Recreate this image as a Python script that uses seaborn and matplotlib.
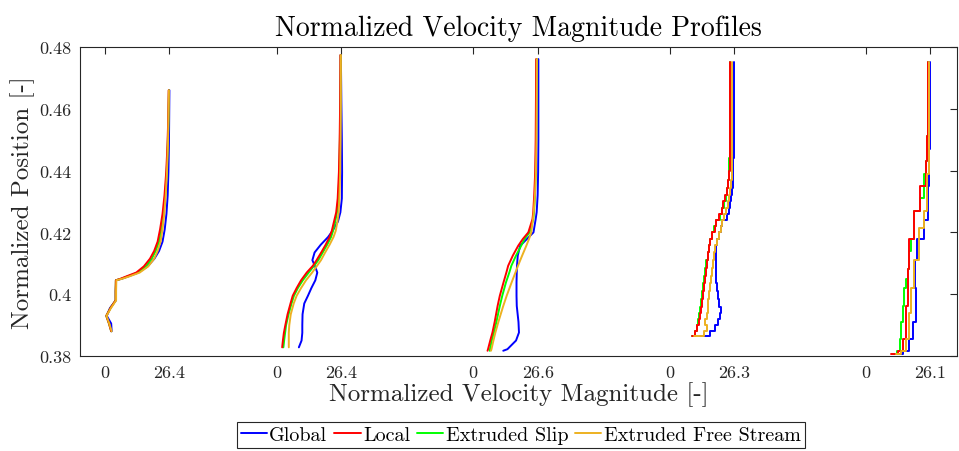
import numpy as np
import pandas as pd
import matplotlib
matplotlib.use("Agg")
import matplotlib.pyplot as plt
import seaborn as sns

# ---- profile data: position (y) and velocity magnitude per method ----
series_names = ["Global", "Local", "Extruded Slip", "Extruded Free Stream"]
series_colors = {"Global": "#0000FF", "Local": "#FF0000",
                 "Extruded Slip": "#00FF00", "Extruded Free Stream": "#EDB120"}
draw_order = ["Global", "Extruded Slip", "Local", "Extruded Free Stream"]

station_offsets = [0, 70, 150, 230, 310]
station_max = [26.4, 26.4, 26.6, 26.3, 26.1]
station_steps = [False, False, False, True, True]

# station 1
y1 = [0.388, 0.3905, 0.393, 0.3955, 0.398, 0.401, 0.4045, 0.405, 0.4058, 0.407,
      0.409, 0.4115, 0.414, 0.417, 0.421, 0.426, 0.432, 0.4395, 0.448, 0.456, 0.466]
glob1 = [2.9, 2.7, 0.9, 2.2, 4.6, 4.6, 4.7, 7.0, 9.8, 13.8, 17.5, 20.3, 22.2, 23.6,
         24.5, 25.2, 25.7, 26.0, 26.2, 26.3, 26.4]
local1 = [2.7, 1.8, 0.7, 2.4, 4.5, 4.5, 4.6, 6.5, 9.0, 12.9, 16.0, 18.5, 20.2, 21.6,
          22.6, 23.6, 24.4, 25.1, 25.6, 25.9, 26.1]
slip1 = [2.7, 1.8, 0.7, 2.4, 4.5, 4.5, 4.6, 6.8, 9.5, 13.5, 16.8, 19.2, 20.8, 22.2,
         23.2, 24.0, 24.7, 25.3, 25.7, 26.0, 26.2]
free1 = [2.9, 1.9, 0.8, 2.6, 4.7, 4.7, 4.8, 7.2, 10.2, 14.3, 17.8, 20.2, 21.6, 22.8,
         23.6, 24.3, 24.9, 25.4, 25.8, 26.0, 26.2]

# station 2
y2 = [0.3828, 0.385, 0.3875, 0.390, 0.3935, 0.397, 0.3995, 0.402, 0.4045, 0.407,
      0.4092, 0.411, 0.4135, 0.416, 0.4185, 0.4205, 0.4235, 0.4265, 0.431, 0.4395,
      0.450, 0.462, 0.4774]
glob2 = [9.1, 10.2, 10.5, 10.5, 10.6, 11.3, 12.8, 14.2, 15.8, 16.6, 15.6, 14.6, 15.5,
         18.0, 21.0, 22.8, 25.0, 26.0, 26.6, 26.7, 26.6, 26.4, 26.2]
local2 = [2.3, 2.6, 3.0, 3.6, 4.5, 5.7, 6.6, 8.2, 10.0, 12.3, 14.8, 16.3, 18.2, 20.0,
          21.6, 22.5, 23.4, 24.3, 24.9, 25.4, 25.7, 25.9, 26.0]
slip2 = [2.8, 3.1, 3.5, 3.9, 4.9, 6.1, 7.1, 8.7, 10.7, 13.1, 15.3, 17.0, 18.8, 20.6,
         22.2, 23.0, 23.9, 24.6, 25.2, 25.6, 25.8, 26.0, 26.1]
free2 = [5.0, 5.0, 5.0, 5.2, 5.8, 7.0, 8.2, 10.0, 12.0, 14.5, 16.5, 18.1, 19.8, 21.6,
         23.2, 24.1, 24.8, 25.3, 25.6, 25.9, 26.1, 26.2, 26.2]

# station 3
y3 = [0.3817, 0.3822, 0.385, 0.3876, 0.391, 0.3962, 0.3995, 0.4038, 0.4071, 0.4092,
      0.4125, 0.4157, 0.4179, 0.420, 0.4243, 0.4265, 0.432, 0.4395, 0.450, 0.462, 0.4761]
glob3 = [12.3, 14.0, 17.5, 18.7, 18.5, 17.8, 17.7, 17.7, 17.8, 17.9, 18.2, 19.2, 22.0,
         24.6, 25.5, 25.9, 26.3, 26.5, 26.6, 26.6, 26.6]
local3 = [5.9, 6.1, 7.0, 7.9, 8.8, 10.0, 10.9, 12.4, 13.6, 14.3, 16.2, 18.4, 20.3, 22.5,
          24.2, 24.5, 24.9, 25.3, 25.5, 25.6, 25.7]
slip3 = [6.8, 6.9, 7.6, 8.5, 9.5, 10.9, 11.9, 13.4, 14.8, 15.6, 17.5, 19.6, 21.0, 23.0,
         24.5, 24.8, 25.2, 25.5, 25.7, 25.8, 25.9]
free3 = [7.3, 7.5, 8.3, 9.1, 10.3, 12.3, 13.7, 15.7, 17.3, 18.3, 20.0, 21.7, 22.8, 23.7,
         24.4, 24.7, 25.2, 25.6, 25.8, 25.9, 26.0]

# station 4 (cell-wise constant values)
y4 = [0.3866, 0.3880, 0.3900, 0.3920, 0.3940, 0.3960, 0.3985, 0.4010, 0.4035, 0.4060,
      0.4085, 0.4110, 0.4135, 0.4160, 0.4180, 0.4200, 0.4220, 0.4240, 0.4260, 0.4280,
      0.4300, 0.4320, 0.4345, 0.4370, 0.4400, 0.4440, 0.4500, 0.4600, 0.4752]
glob4 = [12.5, 16.5, 18.5, 19.8, 20.4, 20.8, 20.3, 19.7, 19.2, 18.9, 18.8, 18.8, 18.9,
         19.0, 19.2, 20.2, 20.8, 21.5, 23.4, 24.2, 24.6, 25.0, 25.5, 25.8, 25.9, 26.0,
         26.1, 26.1, 26.1]
local4 = [9.1, 10.2, 11.3, 11.8, 12.2, 12.6, 13.1, 13.5, 13.9, 14.4, 14.8, 15.2, 15.6,
          16.1, 16.6, 17.4, 18.3, 19.1, 20.2, 21.3, 21.9, 22.6, 23.3, 23.7, 24.1, 24.4,
          24.6, 24.7, 24.8]
slip4 = [9.1, 10.4, 11.0, 11.4, 11.8, 12.3, 12.8, 13.3, 13.7, 14.2, 14.6, 15.0, 15.5,
         16.0, 16.6, 17.2, 18.0, 19.0, 20.5, 21.3, 22.2, 22.8, 23.3, 23.7, 24.0, 24.3,
         24.5, 24.7, 24.8]
free4 = [9.9, 14.0, 15.2, 14.6, 15.2, 15.5, 15.8, 16.2, 16.6, 17.0, 17.4, 17.8, 18.1,
         18.5, 19.2, 20.2, 20.9, 21.5, 22.0, 22.8, 23.7, 24.3, 24.8, 25.1, 25.3, 25.4,
         25.5, 25.6, 25.6]

# station 5 (cell-wise constant values)
y5 = [0.3806, 0.3817, 0.3835, 0.3855, 0.3880, 0.3910, 0.3940, 0.3963, 0.3990, 0.4020,
      0.4050, 0.4082, 0.4110, 0.4140, 0.4179, 0.4215, 0.4240, 0.4270, 0.4310, 0.4351,
      0.4390, 0.4432, 0.4470, 0.4513, 0.4600, 0.4752]
glob5 = [11.6, 14.9, 17.6, 17.6, 19.2, 19.2, 20.3, 20.3, 20.3, 20.3, 20.0, 20.0, 20.0,
         20.9, 20.9, 23.5, 23.5, 25.3, 25.3, 25.3, 25.8, 25.8, 25.8, 26.2, 26.2, 26.2]
local5 = [10.3, 12.9, 14.9, 14.9, 16.2, 16.2, 16.2, 16.2, 16.9, 16.9, 16.9, 16.9, 17.6,
          17.6, 17.6, 19.6, 19.6, 19.6, 21.8, 21.8, 24.2, 24.2, 24.9, 24.9, 25.3, 25.3]
slip5 = [11.0, 12.5, 13.6, 13.6, 14.2, 14.2, 14.9, 14.9, 15.5, 15.5, 16.2, 16.9, 17.3,
         17.6, 18.2, 19.6, 19.6, 19.6, 21.8, 23.5, 23.5, 24.2, 24.6, 24.9, 25.1, 25.2]
free5 = [12.3, 14.2, 16.2, 16.2, 17.6, 17.6, 17.6, 18.2, 18.2, 18.2, 19.6, 19.6, 19.6,
         21.6, 21.6, 21.6, 23.5, 23.5, 24.9, 24.9, 24.9, 25.5, 25.5, 25.8, 25.8, 25.8]

stations = [
    (y1, {"Global": glob1, "Local": local1, "Extruded Slip": slip1, "Extruded Free Stream": free1}),
    (y2, {"Global": glob2, "Local": local2, "Extruded Slip": slip2, "Extruded Free Stream": free2}),
    (y3, {"Global": glob3, "Local": local3, "Extruded Slip": slip3, "Extruded Free Stream": free3}),
    (y4, {"Global": glob4, "Local": local4, "Extruded Slip": slip4, "Extruded Free Stream": free4}),
    (y5, {"Global": glob5, "Local": local5, "Extruded Slip": slip5, "Extruded Free Stream": free5}),
]

# ---- style ----
sns.set_theme(style="white")
plt.rcParams.update({
    "font.family": ["cmr10", "DejaVu Serif"],
    "mathtext.fontset": "cm",
    "axes.formatter.use_mathtext": True,
    "axes.edgecolor": "#262626",
    "axes.linewidth": 0.8,
    "xtick.color": "#262626",
    "ytick.color": "#262626",
    "text.color": "#000000",
})

fig = plt.figure(figsize=(9.59, 4.52), dpi=100)
ax = fig.add_axes([0.0834, 0.2102, 0.9145, 0.6836])

handles = {}
for k, (yy, vals) in enumerate(stations):
    off = station_offsets[k]
    for name in draw_order:
        df = pd.DataFrame({"vel": np.asarray(vals[name]) + off, "pos": yy})
        kw = dict(drawstyle="steps-post") if station_steps[k] else {}
        sns.lineplot(data=df, x="vel", y="pos", ax=ax, sort=False, estimator=None,
                     orient="y", color=series_colors[name], lw=1.4,
                     label=name if k == 0 else None, legend=False, **kw)
    if k == 0:
        for line, name in zip(ax.lines, draw_order):
            handles[name] = line

ax.set_xlim(-10, 347)
ax.set_ylim(0.38, 0.48)

xt, xl = [], []
for off, mx in zip(station_offsets, station_max):
    xt += [off, off + mx]
    xl += ["0", f"{mx:.1f}"]
ax.set_xticks(xt)
ax.set_xticklabels(xl)
ax.set_yticks([0.38, 0.40, 0.42, 0.44, 0.46, 0.48])
ax.set_yticklabels(["0.38", "0.4", "0.42", "0.44", "0.46", "0.48"])
ax.tick_params(axis="both", direction="in", length=5, width=0.8, labelsize=13,
               top=True, right=True, pad=6)

ax.set_xlabel("Normalized Velocity Magnitude [-]", fontsize=18, labelpad=1)
ax.set_ylabel("Normalized Position [-]", fontsize=18, labelpad=3)
ax.set_title("Normalized Velocity Magnitude Profiles", fontsize=20, pad=9)

for s in ax.spines.values():
    s.set_visible(True)

leg = fig.legend([handles[n] for n in series_names], series_names,
                 loc="center", bbox_to_anchor=(0.543, 0.035), ncol=4, fontsize=14.5,
                 frameon=True, fancybox=False, edgecolor="#262626", framealpha=1,
                 handlelength=1.3, handletextpad=0.12, columnspacing=0.35,
                 borderpad=0.2, borderaxespad=0)
leg.get_frame().set_linewidth(0.8)

fig.savefig("out.png", dpi=100)
